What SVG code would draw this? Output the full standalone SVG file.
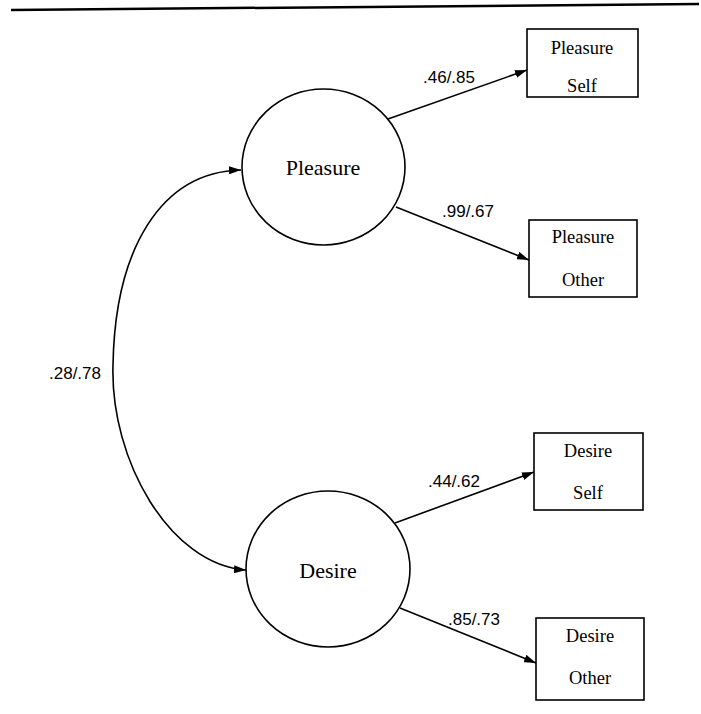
<svg xmlns="http://www.w3.org/2000/svg" width="701" height="714" viewBox="0 0 701 714">
<defs>
<style>
.node{fill:#fff;stroke:#000;stroke-width:1.6}
.box{fill:#fff;stroke:#000;stroke-width:1.6}
.lat{font-family:"Liberation Serif","Times New Roman",serif;font-size:22px;fill:#000;text-anchor:middle}
.obs{font-family:"Liberation Serif","Times New Roman",serif;font-size:18.5px;fill:#000;text-anchor:middle}
.lbl{font-family:"Liberation Sans",Arial,sans-serif;font-size:17px;fill:#000}
.edge{fill:none;stroke:#000;stroke-width:1.6;marker-end:url(#ah)}
</style>
<marker id="ah" viewBox="0 0 12 8" refX="12" refY="4" markerWidth="12" markerHeight="8" markerUnits="userSpaceOnUse" orient="auto-start-reverse">
<path d="M0,0 L12,4 L0,8 Z" fill="#000"/>
</marker>
</defs>
<rect width="701" height="714" fill="#fff"/>
<line x1="11" y1="10" x2="699" y2="4" stroke="#000" stroke-width="2.5"/>
<g id="connectors">
<path class="edge" d="M241,170 C160,172 115,250 113,365 C110,460 170,565 246,570" style="marker-start:url(#ah)"/>
<line class="edge" x1="388" y1="119" x2="527" y2="70"/>
<line class="edge" x1="396" y1="207" x2="529" y2="260"/>
<line class="edge" x1="395" y1="523" x2="534" y2="472"/>
<line class="edge" x1="400" y1="608" x2="536" y2="663"/>
<text class="lbl" x="49" y="379">.28/.78</text>
<text class="lbl" x="423" y="83">.46/.85</text>
<text class="lbl" x="442" y="217">.99/.67</text>
<text class="lbl" x="428" y="487">.44/.62</text>
<text class="lbl" x="448" y="625">.85/.73</text>
</g>
<g id="pleasure">
<ellipse class="node" cx="323.5" cy="167" rx="81.5" ry="78"/>
<text class="lat" x="323" y="175">Pleasure</text>
</g>
<g id="desire">
<ellipse class="node" cx="328" cy="569" rx="82" ry="78"/>
<text class="lat" x="328" y="578">Desire</text>
</g>
<g id="pleasure-self">
<rect class="box" x="527" y="29" width="111" height="68"/>
<text class="obs" x="582" y="54">Pleasure</text>
<text class="obs" x="582" y="92">Self</text>
</g>
<g id="pleasure-other">
<rect class="box" x="529" y="220" width="108" height="77"/>
<text class="obs" x="583" y="243">Pleasure</text>
<text class="obs" x="583" y="286">Other</text>
</g>
<g id="desire-self">
<rect class="box" x="534" y="433" width="109" height="77"/>
<text class="obs" x="588" y="457">Desire</text>
<text class="obs" x="588" y="499">Self</text>
</g>
<g id="desire-other">
<rect class="box" x="536" y="618" width="108" height="82"/>
<text class="obs" x="590" y="642">Desire</text>
<text class="obs" x="590" y="684">Other</text>
</g>
</svg>
